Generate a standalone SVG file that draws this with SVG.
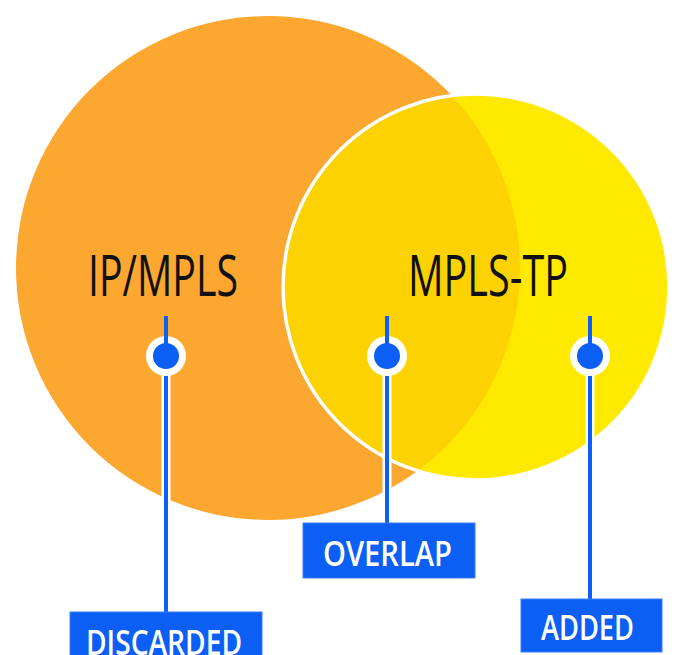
<svg xmlns="http://www.w3.org/2000/svg" width="675" height="655" viewBox="0 0 675 655">
  <style>
    .big { font-family: "Open Sans", "Liberation Sans", sans-serif; font-weight: 400; font-size: 56px; fill: #111; }
    .lbl { font-family: "Open Sans", "Liberation Sans", sans-serif; font-weight: 600; font-size: 35px; fill: #fff; }
    .box { fill: #0B5FF5; stroke: #3D7FF7; stroke-width: 1; }
    .halo { stroke: #fff; stroke-width: 9; fill: none; }
    .wire { stroke: #0B5FF5; stroke-width: 4; fill: none; }
  </style>
  <defs>
    <clipPath id="clipY">
      <circle cx="476" cy="287" r="193"/>
    </clipPath>
  </defs>

  <g id="ip-mpls">
    <circle cx="268" cy="268" r="252" fill="#FCA72F"/>
  </g>
  <g id="mpls-tp">
    <circle cx="476" cy="287" r="193" fill="#FFE900"/>
    <circle cx="268" cy="268" r="252" fill="#FDD203" clip-path="url(#clipY)"/>
    <circle cx="476" cy="287" r="193" fill="none" stroke="#fff" stroke-width="3.5"/>
  </g>
  <text class="big" x="88" y="296" textLength="150" lengthAdjust="spacingAndGlyphs">IP/MPLS</text>
  <text class="big" x="408" y="296" textLength="160" lengthAdjust="spacingAndGlyphs">MPLS-TP</text>

  <g id="connectors">
    <line class="halo" x1="166" y1="356" x2="166" y2="612"/>
    <line class="halo" x1="387" y1="356" x2="387" y2="523"/>
    <line class="halo" x1="590" y1="356" x2="590" y2="599"/>
    <line class="wire" x1="166" y1="316" x2="166" y2="612"/>
    <line class="wire" x1="387" y1="316" x2="387" y2="523"/>
    <line class="wire" x1="590" y1="316" x2="590" y2="599"/>
  </g>

  <g id="discarded">
    <circle cx="166" cy="356" r="20" fill="#fff"/>
    <circle cx="166" cy="356" r="13" fill="#0B5FF5"/>
    <line class="wire" x1="166" y1="316" x2="166" y2="356"/>
    <rect class="box" x="70" y="612" width="192" height="50"/>
    <text class="lbl" x="86" y="655" textLength="156" lengthAdjust="spacingAndGlyphs">DISCARDED</text>
  </g>
  <g id="overlap">
    <circle cx="387" cy="356" r="20" fill="#fff"/>
    <circle cx="387" cy="356" r="13" fill="#0B5FF5"/>
    <line class="wire" x1="387" y1="316" x2="387" y2="356"/>
    <rect class="box" x="303" y="523" width="172" height="55"/>
    <text class="lbl" x="323" y="566" textLength="129" lengthAdjust="spacingAndGlyphs">OVERLAP</text>
  </g>
  <g id="added">
    <circle cx="590" cy="356" r="20" fill="#fff"/>
    <circle cx="590" cy="356" r="13" fill="#0B5FF5"/>
    <line class="wire" x1="590" y1="316" x2="590" y2="356"/>
    <rect class="box" x="521" y="599" width="141" height="53"/>
    <text class="lbl" x="541" y="640" textLength="93" lengthAdjust="spacingAndGlyphs">ADDED</text>
  </g>
</svg>
